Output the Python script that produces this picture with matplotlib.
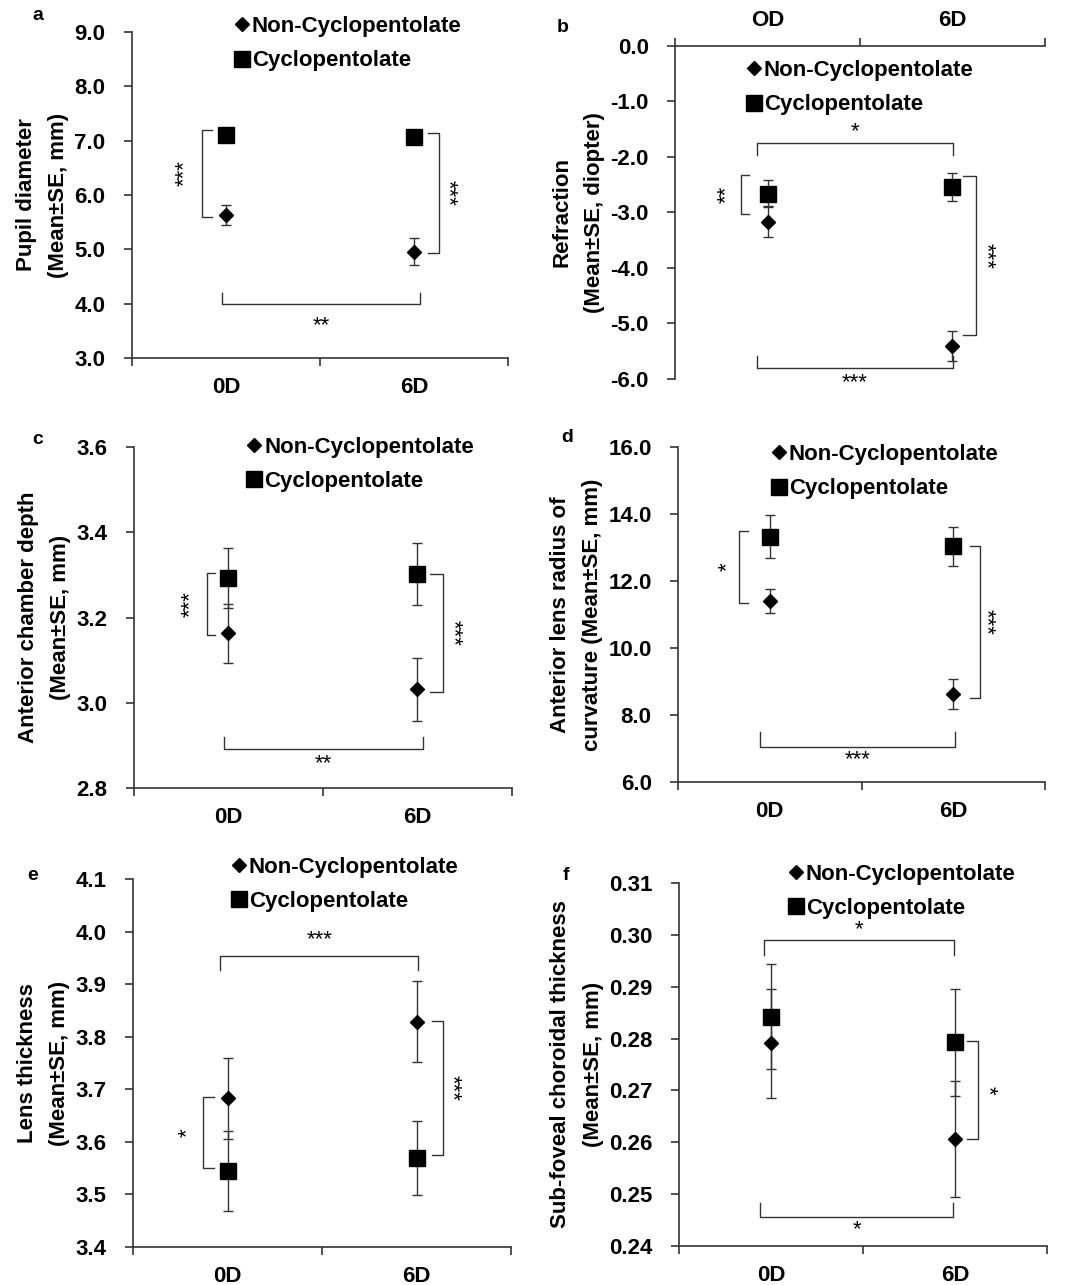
import matplotlib
matplotlib.use('Agg')
import matplotlib.pyplot as plt
from matplotlib.lines import Line2D

plt.rcParams['font.family'] = ['Liberation Sans', 'DejaVu Sans']

groups = ['0D', '6D']
groups_b = ['OD', '6D']
xpos = [0.5, 1.5]

# a - pupil diameter
pupil_non = [5.63, 4.96]
pupil_non_se = [0.19, 0.245]
pupil_cyc = [7.11, 7.07]
pupil_cyc_se = [0.07, 0.06]

# b - refraction
refr_non = [-3.17, -5.41]
refr_non_se = [0.28, 0.27]
refr_cyc = [-2.66, -2.54]
refr_cyc_se = [0.24, 0.25]

# c - anterior chamber depth
acd_non = [3.163, 3.032]
acd_non_se = [0.069, 0.074]
acd_cyc = [3.292, 3.303]
acd_cyc_se = [0.07, 0.073]

# d - anterior lens radius of curvature
alr_non = [11.41, 8.63]
alr_non_se = [0.36, 0.46]
alr_cyc = [13.32, 13.04]
alr_cyc_se = [0.64, 0.58]

# e - lens thickness
lt_non = [3.683, 3.828]
lt_non_se = [0.077, 0.077]
lt_cyc = [3.545, 3.569]
lt_cyc_se = [0.076, 0.07]

# f - sub-foveal choroidal thickness
sfct_non = [0.2791, 0.2606]
sfct_non_se = [0.0105, 0.0112]
sfct_cyc = [0.2842, 0.2793]
sfct_cyc_se = [0.0101, 0.0103]

# significance brackets: vertical (x, y1, y2, dx, label, text_x), horizontal (x1, x2, y, dy, label, text_y)
a_vbr = [(0.37, 7.2, 5.6, 0.055, '***', 0.28), (1.635, 7.15, 4.93, -0.06, '***', 1.68)]
a_hbr = [(0.48, 1.53, 4.0, 0.2, '**', 3.6)]
b_vbr = [(0.357, -2.32, -3.02, 0.045, '**', 0.28), (1.627, -2.35, -5.2, -0.07, '***', 1.68)]
b_hbr = [(0.443, 1.503, -1.75, -0.21, '*', -1.55), (0.443, 1.503, -5.8, 0.21, '***', -6.07)]
c_vbr = [(0.386, 3.304, 3.159, 0.045, '***', 0.3), (1.635, 3.303, 3.025, -0.07, '***', 1.69)]
c_hbr = [(0.476, 1.53, 2.891, 0.028, '**', 2.858)]
d_vbr = [(0.332, 13.49, 11.34, 0.05, '*', 0.27), (1.646, 13.04, 8.51, -0.056, '***', 1.68)]
d_hbr = [(0.447, 1.51, 7.04, 0.45, '***', 6.66)]
e_vbr = [(0.37, 3.685, 3.55, 0.06, '*', 0.29), (1.64, 3.83, 3.575, -0.06, '***', 1.69)]
e_hbr = [(0.46, 1.51, 3.953, -0.026, '***', 3.984)]
f_vbr = [(1.625, 0.2795, 0.2606, -0.06, '*', 1.68)]
f_hbr = [(0.46, 1.495, 0.299, -0.0029, '*', 0.3011), (0.44, 1.49, 0.2456, 0.0027, '*', 0.2431)]

ink = '#333333'


def vbracket(ax, x, y1, y2, dx, label, tx, rot):
    ax.plot([x + dx, x, x, x + dx], [y1, y1, y2, y2], color=ink, lw=1.0, clip_on=False)
    ax.text(tx, (y1 + y2) / 2, label, rotation=rot, ha='center', va='center', fontsize=16)


def hbracket(ax, x1, x2, y, dy, label, ty):
    ax.plot([x1, x1, x2, x2], [y + dy, y, y, y + dy], color=ink, lw=1.0, clip_on=False)
    ax.text((x1 + x2) / 2, ty, label, ha='center', va='center', fontsize=16)


def panel(rect, letter, letter_xy, ylabel, ylim, yticks, fmt, non, non_se, cyc, cyc_se,
          vbr, hbr, leg_xy, labels=groups, top=False):
    ax = fig.add_axes(rect)
    ax.errorbar(xpos, non, yerr=non_se, fmt='D', ms=7.5, color='black', ecolor=ink,
                elinewidth=1.0, capsize=3.5, capthick=1.0, zorder=3)
    ax.errorbar(xpos, cyc, yerr=cyc_se, fmt='s', ms=11.5, color='black', ecolor=ink,
                elinewidth=1.0, capsize=3.5, capthick=1.0, zorder=3)
    ax.set_xlim(0, 2)
    ax.set_ylim(*ylim)
    ax.set_yticks(yticks)
    ax.set_yticklabels([fmt.format(v) for v in yticks])
    ax.set_xticks([0, 1, 2])
    ax.set_xticklabels([])
    ax.set_xticks(xpos, minor=True)
    ax.set_xticklabels(labels, minor=True)
    for s in ax.spines.values():
        s.set_color(ink)
        s.set_linewidth(1.2)
    ax.spines['right'].set_visible(False)
    if top:
        ax.spines['bottom'].set_visible(False)
        ax.xaxis.tick_top()
        ax.tick_params(axis='x', which='minor', top=False, labeltop=True, pad=9)
    else:
        ax.spines['top'].set_visible(False)
        ax.tick_params(axis='x', which='minor', bottom=False, pad=12)
    ax.tick_params(axis='both', which='major', direction='out', length=6, width=1.2, color=ink,
                   labelsize=16)
    ax.tick_params(axis='y', which='major', pad=13)
    ax.tick_params(axis='x', which='minor', labelsize=16)
    for t in ax.get_xticklabels(minor=True) + ax.get_yticklabels():
        t.set_fontweight('bold')
    ax.set_ylabel(ylabel, fontsize=16, fontweight='bold', linespacing=1.7, labelpad=4)
    for br in vbr:
        vbracket(ax, *br, rot=90 if br[3] > 0 else 270)
    for br in hbr:
        hbracket(ax, *br)
    handles = [Line2D([], [], ls='none', marker='D', ms=7.5, color='black'),
               Line2D([], [], ls='none', marker='s', ms=11, color='black')]
    ax.legend(handles, ['Non-Cyclopentolate', 'Cyclopentolate'], loc='upper left',
              bbox_to_anchor=leg_xy, frameon=False, handlelength=0.6, handletextpad=0.15,
              borderpad=0, borderaxespad=0, labelspacing=0.6,
              prop={'size': 16, 'weight': 'bold'})
    fig.text(letter_xy[0] / 1072, 1 - letter_xy[1] / 1285, letter, fontsize=14,
             fontweight='bold', ha='center', va='center')
    return ax


fig = plt.figure(figsize=(10.72, 12.85), dpi=100)

panel([0.1231, 0.7214, 0.3508, 0.2537], 'a', (38, 15), 'Pupil diameter\n(Mean±SE, mm)',
      (3, 9), [3, 4, 5, 6, 7, 8, 9], '{:.1f}', pupil_non, pupil_non_se, pupil_cyc, pupil_cyc_se,
      a_vbr, a_hbr, (0.274, 1.049))
panel([0.6297, 0.7051, 0.3451, 0.2591], 'b', (563, 28), 'Refraction\n(Mean±SE, diopter)',
      (-6, 0), [-6, -5, -4, -3, -2, -1, 0], '{:.1f}', refr_non, refr_non_se, refr_cyc, refr_cyc_se,
      b_vbr, b_hbr, (0.195, 0.958), labels=groups_b, top=True)
panel([0.125, 0.3868, 0.3526, 0.2653], 'c', (38, 440), 'Anterior chamber depth\n(Mean±SE, mm)',
      (2.8, 3.6), [2.8, 3.0, 3.2, 3.4, 3.6], '{:.1f}', acd_non, acd_non_se, acd_cyc, acd_cyc_se,
      c_vbr, c_hbr, (0.30, 1.03))
panel([0.6325, 0.3914, 0.3423, 0.2607], 'd', (567, 437),
      'Anterior lens radius of\ncurvature (Mean±SE, mm)',
      (6, 16), [6, 8, 10, 12, 14, 16], '{:.1f}', alr_non, alr_non_se, alr_cyc, alr_cyc_se,
      d_vbr, d_hbr, (0.256, 1.009))
panel([0.1241, 0.0296, 0.3526, 0.2864], 'e', (33, 875), 'Lens thickness\n(Mean±SE, mm)',
      (3.4, 4.1), [3.4, 3.5, 3.6, 3.7, 3.8, 3.9, 4.0, 4.1], '{:.1f}', lt_non, lt_non_se,
      lt_cyc, lt_cyc_se, e_vbr, e_hbr, (0.262, 1.06))
panel([0.6334, 0.0304, 0.3433, 0.2824], 'f', (566, 875),
      'Sub-foveal choroidal thickness\n(Mean±SE, mm)',
      (0.24, 0.31), [0.24, 0.25, 0.26, 0.27, 0.28, 0.29, 0.30, 0.31], '{:.2f}', sfct_non,
      sfct_non_se, sfct_cyc, sfct_cyc_se, f_vbr, f_hbr, (0.299, 1.053))

fig.savefig('out.png', dpi=100)
